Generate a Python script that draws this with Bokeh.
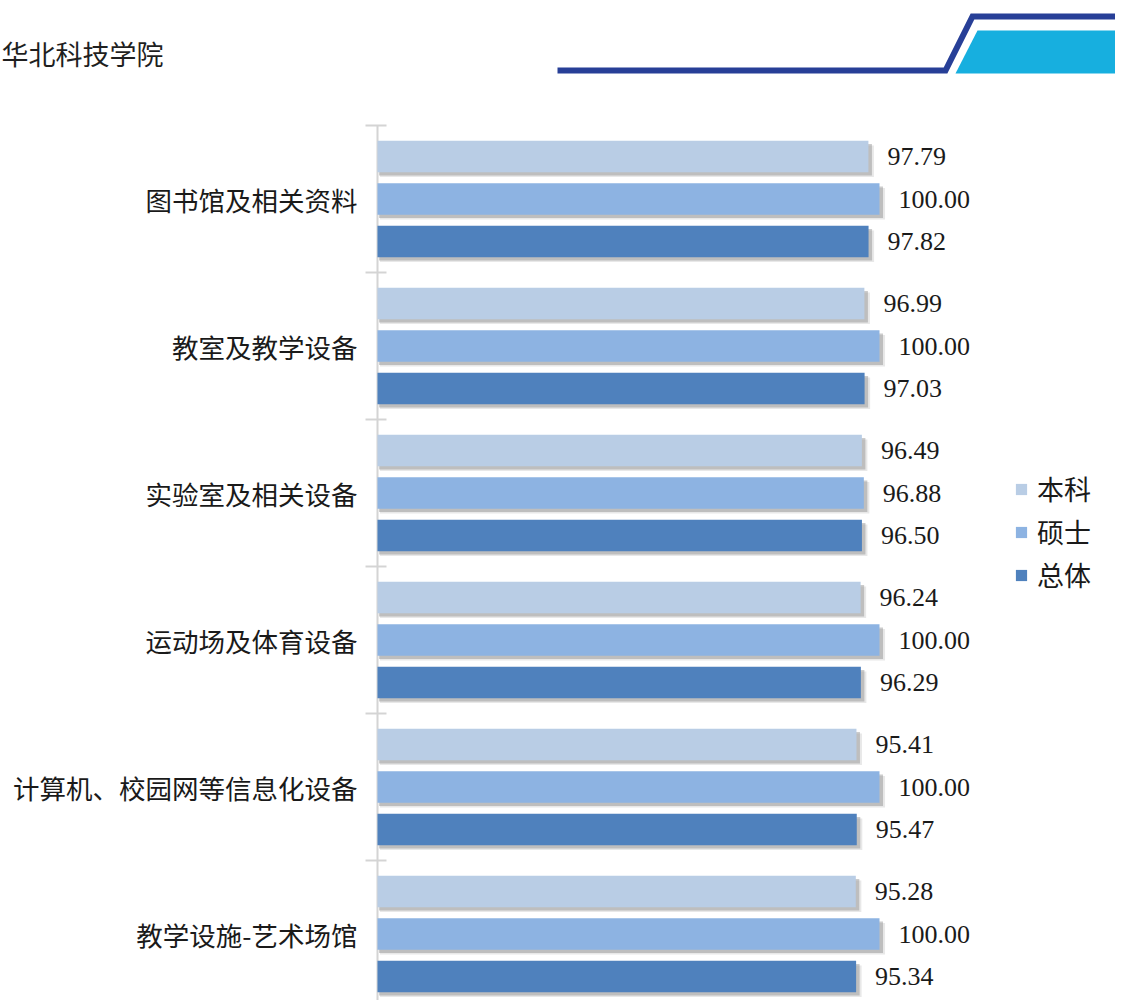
from bokeh.plotting import figure
from bokeh.models import ColumnDataSource, Range1d, Legend, LegendItem
from bokeh.core.properties import value
from bokeh.embed import file_html
from bokeh.resources import INLINE

# ---------------- data ----------------
title_text = "华北科技学院"
categories = ["图书馆及相关资料", "教室及教学设备", "实验室及相关设备",
              "运动场及体育设备", "计算机、校园网等信息化设备", "教学设施-艺术场馆"]
series_names = ["本科", "硕士", "总体"]
benke = [97.79, 96.99, 96.49, 96.24, 95.41, 95.28]
shuoshi = [100.00, 100.00, 96.88, 100.00, 100.00, 100.00]
zongti = [97.82, 97.03, 96.50, 96.29, 95.47, 95.34]

colors = ["#b9cde5", "#8db3e2", "#4f81bd"]
offsets = [-0.289, 0.0, 0.289]
bar_h = 0.215

W = 1115
H = 1000
CJK = "Noto Sans CJK SC"
AX = "#d4d4d4"

# value axis: 0 at canvas x 377, 5.02 px per unit; categories 147 px apart
px_per_unit = 5.02
zero_px = 377
cat_px = 147.0
cat0_center = 198.5  # canvas y of the first category centre

x_start = -zero_px / px_per_unit
x_end = (W - zero_px) / px_per_unit
y_top = (0 - cat0_center) / cat_px
y_bottom = (H - cat0_center) / cat_px

p = figure(width=W, height=H, x_range=Range1d(x_start, x_end),
           y_range=Range1d(y_bottom, y_top),
           x_axis_location=None, y_axis_location=None, toolbar_location=None,
           output_backend="svg", min_border=0, outline_line_color=None)
p.grid.visible = False
# pixel-space ranges for the page header decoration
p.extra_x_ranges = {"px": Range1d(0, W)}
p.extra_y_ranges = {"px": Range1d(H, 0)}

# ---------------- header ----------------
p.patch([955, 977, W + 5, W + 5], [73, 30, 30, 73], fill_color="#17afdf", line_color=None,
        x_range_name="px", y_range_name="px")
p.line([557, 945, 972, W + 5], [70, 70, 16, 16], line_color="#273f97", line_width=6,
       line_join="miter", x_range_name="px", y_range_name="px")
p.text(x=[1], y=[53], text=[title_text], text_font=value(CJK), text_font_size="27px",
       text_color="#1f1f1f", text_baseline="middle", text_align="left",
       x_range_name="px", y_range_name="px")

# ---------------- category axis ----------------
n = len(categories)
bounds = [i - 0.5 for i in range(n + 1)]
p.segment(x0=[0], y0=[bounds[0]], x1=[0], y1=[y_bottom + 1], line_color=AX, line_width=2)
p.segment(x0=[-12 / px_per_unit] * len(bounds), y0=bounds,
          x1=[9 / px_per_unit] * len(bounds), y1=bounds, line_color=AX, line_width=2)
p.text(x=[0] * n, y=list(range(n)), text=categories, x_offset=-20,
       text_font=value(CJK), text_font_size="26.5px", text_color="#1a1a1a",
       text_baseline="middle", text_align="right")

# ---------------- bars ----------------
renderers = []
for k, (vals, col) in enumerate(zip([benke, shuoshi, zongti], colors)):
    ys = [i + offsets[k] for i in range(n)]
    src = ColumnDataSource(dict(
        y=ys, v=vals,
        sh_y=[y + 0.022 for y in ys], sh_r=[v + 0.7 for v in vals],
        sh_y2=[y + 0.032 for y in ys], sh_r2=[v + 1.1 for v in vals],
        lab=["{:.2f}".format(v) for v in vals]))
    p.hbar(y="sh_y2", left=0.5, right="sh_r2", height=bar_h, source=src,
           fill_color="#7f7f7f", fill_alpha=0.18, line_color=None)
    p.hbar(y="sh_y", left=0.3, right="sh_r", height=bar_h, source=src,
           fill_color="#7f7f7f", fill_alpha=0.4, line_color=None)
    r = p.hbar(y="y", left=0, right="v", height=bar_h, source=src,
               fill_color=col, line_color=None)
    renderers.append(r)
    p.text(x="v", y="y", text="lab", source=src, x_offset=19,
           text_font=value("Liberation Serif"), text_font_size="26px",
           text_color="#1a1a1a", text_baseline="middle", text_align="left")

legend = Legend(items=[LegendItem(label=nm, renderers=[r])
                       for nm, r in zip(series_names, renderers)],
                location=(1014, 406), orientation="vertical",
                glyph_width=14, glyph_height=14, label_height=26,
                label_text_font=CJK, label_text_font_size="27px",
                label_text_color="#1a1a1a", label_standoff=9,
                spacing=4, padding=0, margin=0,
                border_line_color=None, background_fill_alpha=0)
p.add_layout(legend, "center")

open("out.html", "w").write(file_html(p, INLINE))
